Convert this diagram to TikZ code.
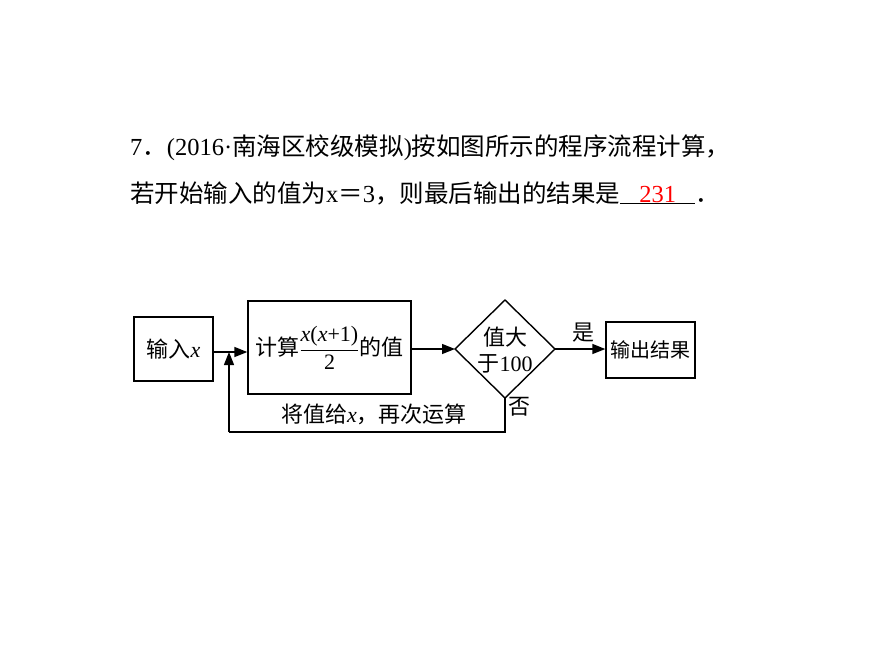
\documentclass[tikz,border=0pt]{standalone}
\usepackage{fontspec}
\setmainfont{Liberation Serif}
\newfontfamily\cjk{Noto Sans CJK SC}
\usetikzlibrary{arrows.meta}
\begin{document}
\begin{tikzpicture}[x=1pt,y=-1pt,
  box/.style={draw,line width=1.4pt,inner sep=0pt},
  conn/.style={line width=1.4pt,-{Triangle[length=13pt,width=10pt]}},
  txt/.style={font=\fontsize{22}{26}\selectfont,inner sep=0pt}]
\useasboundingbox (0,0) rectangle (870,653);
\node[txt,anchor=west,font=\fontsize{24.5}{28}\selectfont] (l1) at (130,148) {7{\cjk ．}(2016·{\cjk 南海区校级模拟})\cjk 按如图所示的程序流程计算，};
\node[txt,anchor=west,font=\fontsize{24.5}{28}\selectfont] (l2) at (130,193) {{\cjk 若开始输入的值为}x{\cjk ＝}3{\cjk ，则最后输出的结果是}\underline{\hbox to 75pt{\hfil\color{red}231\hfil}}{\cjk ．}};
\node[box,minimum width=79pt,minimum height=64pt] (in) at (173.5,349) {};
\node[txt] at (in) {{\cjk 输入}\textit{x}};
\node[box,minimum width=163pt,minimum height=93pt] (calc) at (329.5,347.5) {};
\node[txt] at (calc) {{\cjk 计算}$\displaystyle\frac{\mbox{\textit{x}(\textit{x}+1)}}{\mbox{2}}${\cjk 的值}};
\draw[line width=1.4pt] (455,349) -- (505,300) -- (555,349) -- (505,398) -- cycle;
\coordinate (dl) at (455,349);
\coordinate (dr) at (555,349);
\coordinate (db) at (505,398);
\node[txt,align=center] (dt) at (505,350) {{\cjk 值大}\\{\cjk 于}100};
\node[box,minimum width=89pt,minimum height=56pt] (out) at (650.5,350) {};
\node[txt,font=\fontsize{20}{24}\selectfont] at (out) {\cjk 输出结果};
\coordinate (j) at (229,352);
\coordinate (fb1) at (505,432);
\coordinate (fb2) at (229,432);
\draw[conn] (in.east|-j) -- (calc.west|-j);
\draw[conn] (calc.east|-dl) -- (dl);
\draw[conn] (dr) -- (out.west|-dr);
\draw[line width=1.4pt] (db) -- (fb1) -- (fb2);
\draw[conn] (fb2) -- (j);
\node[txt] (yes) at (583,333) {\cjk 是};
\node[txt] (no) at (519,407) {\cjk 否};
\node[txt] (fbt) at (374,414) {{\cjk 将值给}\textit{x}{\cjk ，再次运算}};
\end{tikzpicture}
\end{document}
